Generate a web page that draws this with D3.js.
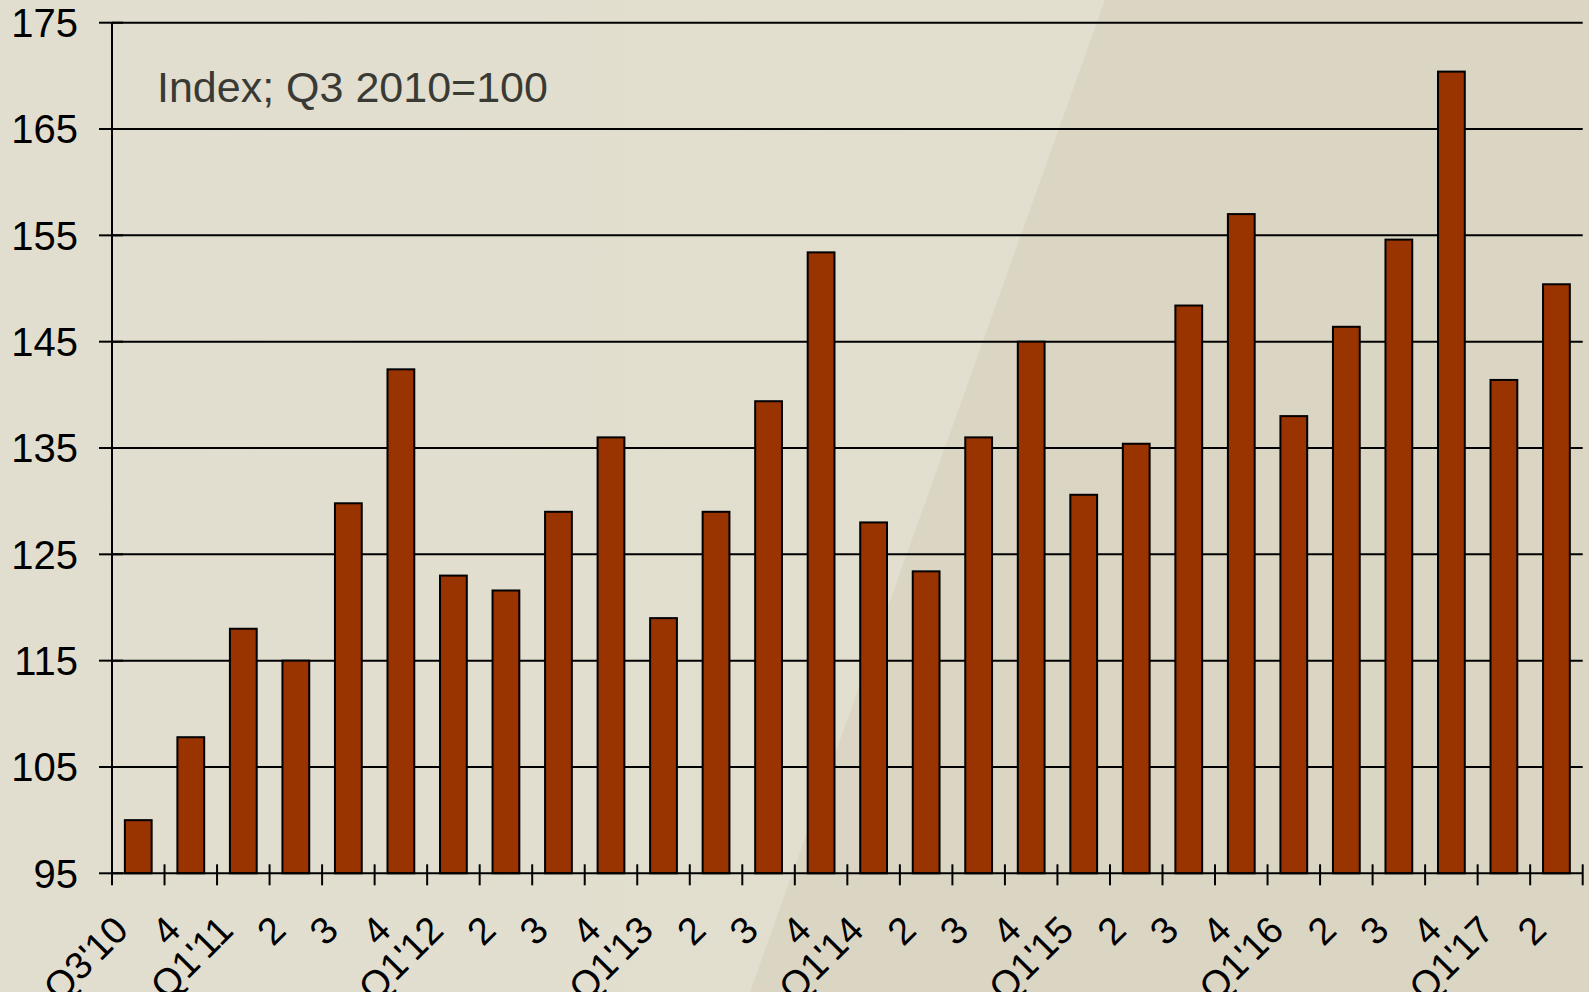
<!DOCTYPE html>
<html>
<head>
<meta charset="utf-8">
<script src="https://cdn.jsdelivr.net/npm/d3@7"></script>
<style>
  html, body { margin: 0; padding: 0; background: #e1decf; }
  svg { display: block; }
  text { font-family: "Liberation Sans", Arial, sans-serif; }
</style>
</head>
<body>
<svg id="chart" width="1589" height="992"></svg>
<script>
// ---- Data ----
const categories = ["Q3'10","4","Q1'11","2","3","4","Q1'12","2","3","4","Q1'13","2","3","4",
                    "Q1'14","2","3","4","Q1'15","2","3","4","Q1'16","2","3","4","Q1'17","2"];
const values = [100.0, 107.8, 118.0, 115.0, 129.8, 142.4, 123.0, 121.6, 129.0, 136.0,
                119.0, 129.0, 139.4, 153.4, 128.0, 123.4, 136.0, 145.0, 130.6, 135.4,
                148.4, 157.0, 138.0, 146.4, 154.6, 170.4, 141.4, 150.4];
const yTicks = [95, 105, 115, 125, 135, 145, 155, 165, 175];
const yDomain = [95, 175];
const annotation = "Index; Q3 2010=100";

// ---- Layout ----
const W = 1589, H = 992;
const mLeft = 112, mRight = 1582.7, mTop = 22.7, mBottom = 873.3;

const svg = d3.select("#chart");

// background with diagonal darker region
svg.append("rect").attr("x", 0).attr("y", 0).attr("width", W).attr("height", H).attr("fill", "#e2dfd0");
const defs = svg.append("defs");
const lg = defs.append("linearGradient").attr("id", "shine")
  .attr("x1", "0").attr("y1", "0").attr("x2", "1").attr("y2", "0");
lg.append("stop").attr("offset", "0").attr("stop-color", "#e1decf");
lg.append("stop").attr("offset", "0.8").attr("stop-color", "#e2dfcf");
lg.append("stop").attr("offset", "1").attr("stop-color", "#e4e1d3");
svg.append("rect").attr("x", 0).attr("y", 0).attr("width", W).attr("height", H).attr("fill", "url(#shine)");
svg.append("path")
  .attr("d", `M1105,0 L${W},0 L${W},${H} L750,${H} Z`)
  .attr("fill", "#dbd6c3");

const x = d3.scaleBand().domain(d3.range(categories.length)).range([mLeft, mRight]).padding(0);
const y = d3.scaleLinear().domain(yDomain).range([mBottom, mTop]);
const bw = x.bandwidth();
const barFrac = 0.51;

// gridlines
svg.append("g").selectAll("line").data(yTicks.filter(t => t !== yDomain[0])).join("line")
  .attr("x1", mLeft).attr("x2", mRight)
  .attr("y1", d => y(d)).attr("y2", d => y(d))
  .attr("stroke", "#000").attr("stroke-width", 2);

// bars
svg.append("g").selectAll("rect").data(values).join("rect")
  .attr("x", (d, i) => x(i) + bw * (1 - barFrac) / 2)
  .attr("width", bw * barFrac)
  .attr("y", d => y(d))
  .attr("height", d => y(yDomain[0]) - y(d))
  .attr("fill", "#993300")
  .attr("stroke", "#000")
  .attr("stroke-width", 2);

// y axis
const yAxis = svg.append("g");
yAxis.append("line").attr("x1", mLeft).attr("x2", mLeft).attr("y1", mTop).attr("y2", mBottom)
  .attr("stroke", "#000").attr("stroke-width", 2);
yAxis.selectAll("line.tk").data(yTicks).join("line").attr("class", "tk")
  .attr("x1", mLeft - 13).attr("x2", mLeft + 11)
  .attr("y1", d => y(d)).attr("y2", d => y(d))
  .attr("stroke", "#000").attr("stroke-width", 2);
yAxis.selectAll("text").data(yTicks).join("text")
  .attr("x", mLeft - 34).attr("y", d => y(d))
  .attr("dy", "0.36em")
  .attr("text-anchor", "end")
  .attr("font-size", 40)
  .attr("fill", "#000")
  .text(d => d);

// x axis
const xAxis = svg.append("g");
xAxis.append("line").attr("x1", mLeft).attr("x2", mRight).attr("y1", mBottom).attr("y2", mBottom)
  .attr("stroke", "#000").attr("stroke-width", 2);
const boundaries = d3.range(categories.length + 1).map(i => i < categories.length ? x(i) : x(categories.length - 1) + bw);
xAxis.selectAll("line.tk").data(boundaries).join("line").attr("class", "tk")
  .attr("x1", d => d).attr("x2", d => d)
  .attr("y1", mBottom - 9).attr("y2", mBottom + 12)
  .attr("stroke", "#000").attr("stroke-width", 2);
xAxis.selectAll("text").data(categories).join("text")
  .attr("transform", (d, i) => `translate(${x(i) + bw / 2 - 8},${mBottom + 59}) rotate(-45)`)
  .attr("text-anchor", "end")
  .attr("font-size", 38)
  .attr("fill", "#000")
  .text(d => d);

// annotation
svg.append("text")
  .attr("x", 157).attr("y", 102)
  .attr("font-size", 43)
  .attr("fill", "#3a3a35")
  .text(annotation);
</script>
</body>
</html>
